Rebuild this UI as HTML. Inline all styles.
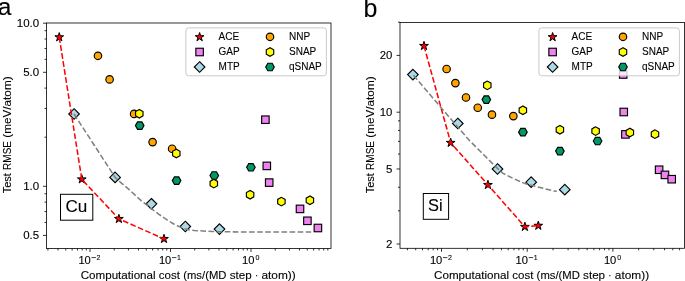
<!DOCTYPE html>
<html><head><meta charset="utf-8"><style>
html,body{margin:0;padding:0;background:#fff;width:685px;height:281px;overflow:hidden}
svg{display:block;will-change:transform}
text{stroke:#000;stroke-width:0.1px}
</style></head><body>
<svg width="685" height="281" viewBox="0 0 685 281" font-family='"Liberation Sans", sans-serif' fill="#000"><rect width="685" height="281" fill="#fff"/><defs><clipPath id="ca"><rect x="46.5" y="23.0" width="284.5" height="225.5"/></clipPath><clipPath id="cb"><rect x="400.0" y="22.5" width="284.5" height="225.8"/></clipPath></defs><g clip-path="url(#ca)"><rect x="261.65" y="115.95" width="7.50" height="7.50" fill="#ee82ee" stroke="#000" stroke-width="1.15"/><rect x="263.05" y="162.15" width="7.50" height="7.50" fill="#ee82ee" stroke="#000" stroke-width="1.15"/><rect x="265.45" y="178.85" width="7.50" height="7.50" fill="#ee82ee" stroke="#000" stroke-width="1.15"/><rect x="296.25" y="205.15" width="7.50" height="7.50" fill="#ee82ee" stroke="#000" stroke-width="1.15"/><rect x="303.65" y="217.05" width="7.50" height="7.50" fill="#ee82ee" stroke="#000" stroke-width="1.15"/><rect x="314.15" y="224.25" width="7.50" height="7.50" fill="#ee82ee" stroke="#000" stroke-width="1.15"/><polygon points="74.05,108.70 79.35,114.00 74.05,119.30 68.75,114.00" fill="#add8e6" stroke="#000" stroke-width="1.15"/><polygon points="115.10,172.10 120.40,177.40 115.10,182.70 109.80,177.40" fill="#add8e6" stroke="#000" stroke-width="1.15"/><polygon points="151.40,198.50 156.70,203.80 151.40,209.10 146.10,203.80" fill="#add8e6" stroke="#000" stroke-width="1.15"/><polygon points="185.30,221.20 190.60,226.50 185.30,231.80 180.00,226.50" fill="#add8e6" stroke="#000" stroke-width="1.15"/><polygon points="219.50,223.80 224.80,229.10 219.50,234.40 214.20,229.10" fill="#add8e6" stroke="#000" stroke-width="1.15"/><circle cx="97.95" cy="55.80" r="3.75" fill="#ffa500" stroke="#000" stroke-width="1.15"/><circle cx="109.60" cy="79.40" r="3.75" fill="#ffa500" stroke="#000" stroke-width="1.15"/><circle cx="134.10" cy="113.90" r="3.75" fill="#ffa500" stroke="#000" stroke-width="1.15"/><circle cx="152.60" cy="142.10" r="3.75" fill="#ffa500" stroke="#000" stroke-width="1.15"/><circle cx="172.10" cy="148.70" r="3.75" fill="#ffa500" stroke="#000" stroke-width="1.15"/><polygon points="139.30,109.40 135.58,111.55 135.58,115.85 139.30,118.00 143.02,115.85 143.02,111.55" fill="#ffff00" stroke="#000" stroke-width="1.15"/><polygon points="176.30,149.20 172.58,151.35 172.58,155.65 176.30,157.80 180.02,155.65 180.02,151.35" fill="#ffff00" stroke="#000" stroke-width="1.15"/><polygon points="213.80,179.30 210.08,181.45 210.08,185.75 213.80,187.90 217.52,185.75 217.52,181.45" fill="#ffff00" stroke="#000" stroke-width="1.15"/><polygon points="250.10,190.40 246.38,192.55 246.38,196.85 250.10,199.00 253.82,196.85 253.82,192.55" fill="#ffff00" stroke="#000" stroke-width="1.15"/><polygon points="281.40,197.30 277.68,199.45 277.68,203.75 281.40,205.90 285.12,203.75 285.12,199.45" fill="#ffff00" stroke="#000" stroke-width="1.15"/><polygon points="309.90,196.00 306.18,198.15 306.18,202.45 309.90,204.60 313.62,202.45 313.62,198.15" fill="#ffff00" stroke="#000" stroke-width="1.15"/><polygon points="144.00,125.60 141.85,121.88 137.55,121.88 135.40,125.60 137.55,129.32 141.85,129.32" fill="#009966" stroke="#000" stroke-width="1.15"/><polygon points="180.90,180.60 178.75,176.88 174.45,176.88 172.30,180.60 174.45,184.32 178.75,184.32" fill="#009966" stroke="#000" stroke-width="1.15"/><polygon points="218.60,175.50 216.45,171.78 212.15,171.78 210.00,175.50 212.15,179.22 216.45,179.22" fill="#009966" stroke="#000" stroke-width="1.15"/><polygon points="255.20,167.30 253.05,163.58 248.75,163.58 246.60,167.30 248.75,171.02 253.05,171.02" fill="#009966" stroke="#000" stroke-width="1.15"/><polygon points="59.25,32.60 58.22,35.78 54.88,35.78 57.58,37.74 56.55,40.92 59.25,38.96 61.95,40.92 60.92,37.74 63.62,35.78 60.28,35.78" fill="#ff0000" stroke="#000" stroke-width="1.0" stroke-linejoin="miter" stroke-miterlimit="10"/><polygon points="81.80,174.70 80.77,177.88 77.43,177.88 80.13,179.84 79.10,183.02 81.80,181.06 84.50,183.02 83.47,179.84 86.17,177.88 82.83,177.88" fill="#ff0000" stroke="#000" stroke-width="1.0" stroke-linejoin="miter" stroke-miterlimit="10"/><polygon points="118.90,214.30 117.87,217.48 114.53,217.48 117.23,219.44 116.20,222.62 118.90,220.66 121.60,222.62 120.57,219.44 123.27,217.48 119.93,217.48" fill="#ff0000" stroke="#000" stroke-width="1.0" stroke-linejoin="miter" stroke-miterlimit="10"/><polygon points="164.00,234.30 162.97,237.48 159.63,237.48 162.33,239.44 161.30,242.62 164.00,240.66 166.70,242.62 165.67,239.44 168.37,237.48 165.03,237.48" fill="#ff0000" stroke="#000" stroke-width="1.0" stroke-linejoin="miter" stroke-miterlimit="10"/><path d="M59.25,37.20 L81.80,179.30 L118.90,218.90 L164.00,238.90" fill="none" stroke="#ff0000" stroke-width="1.530" stroke-dasharray="5.661 2.448" stroke-dashoffset="0.0" stroke-linecap="butt" stroke-linejoin="round"/><path d="M74.05,114.00 L115.10,177.40 L120.00,181.80 L128.90,189.35 L141.40,200.90 L145.40,203.90 L151.60,208.90 L158.70,214.20 L166.70,219.60 L173.80,224.00 L180.30,227.10 L185.70,229.10 L189.60,229.90 L194.30,230.50 L203.00,231.00 L212.30,231.50 L219.00,231.70 L250.00,232.10 L290.00,231.90 L311.20,232.10" fill="none" stroke="#808080" stroke-width="1.530" stroke-dasharray="5.661 2.448" stroke-dashoffset="0.0" stroke-linecap="butt" stroke-linejoin="round"/></g><g clip-path="url(#cb)"><rect x="619.45" y="70.75" width="7.50" height="7.50" fill="#ee82ee" stroke="#000" stroke-width="1.15"/><rect x="620.00" y="108.25" width="7.50" height="7.50" fill="#ee82ee" stroke="#000" stroke-width="1.15"/><rect x="621.65" y="130.65" width="7.50" height="7.50" fill="#ee82ee" stroke="#000" stroke-width="1.15"/><rect x="655.35" y="166.00" width="7.50" height="7.50" fill="#ee82ee" stroke="#000" stroke-width="1.15"/><rect x="661.20" y="171.15" width="7.50" height="7.50" fill="#ee82ee" stroke="#000" stroke-width="1.15"/><rect x="667.95" y="175.45" width="7.50" height="7.50" fill="#ee82ee" stroke="#000" stroke-width="1.15"/><polygon points="412.90,69.30 418.20,74.60 412.90,79.90 407.60,74.60" fill="#add8e6" stroke="#000" stroke-width="1.15"/><polygon points="457.80,118.20 463.10,123.50 457.80,128.80 452.50,123.50" fill="#add8e6" stroke="#000" stroke-width="1.15"/><polygon points="497.50,163.70 502.80,169.00 497.50,174.30 492.20,169.00" fill="#add8e6" stroke="#000" stroke-width="1.15"/><polygon points="531.20,176.90 536.50,182.20 531.20,187.50 525.90,182.20" fill="#add8e6" stroke="#000" stroke-width="1.15"/><polygon points="564.80,184.40 570.10,189.70 564.80,195.00 559.50,189.70" fill="#add8e6" stroke="#000" stroke-width="1.15"/><circle cx="446.60" cy="69.00" r="3.75" fill="#ffa500" stroke="#000" stroke-width="1.15"/><circle cx="455.40" cy="83.10" r="3.75" fill="#ffa500" stroke="#000" stroke-width="1.15"/><circle cx="466.00" cy="97.50" r="3.75" fill="#ffa500" stroke="#000" stroke-width="1.15"/><circle cx="477.75" cy="107.70" r="3.75" fill="#ffa500" stroke="#000" stroke-width="1.15"/><circle cx="491.95" cy="114.65" r="3.75" fill="#ffa500" stroke="#000" stroke-width="1.15"/><circle cx="513.35" cy="116.10" r="3.75" fill="#ffa500" stroke="#000" stroke-width="1.15"/><polygon points="487.30,81.05 483.58,83.20 483.58,87.50 487.30,89.65 491.02,87.50 491.02,83.20" fill="#ffff00" stroke="#000" stroke-width="1.15"/><polygon points="522.85,106.00 519.13,108.15 519.13,112.45 522.85,114.60 526.57,112.45 526.57,108.15" fill="#ffff00" stroke="#000" stroke-width="1.15"/><polygon points="559.90,125.40 556.18,127.55 556.18,131.85 559.90,134.00 563.62,131.85 563.62,127.55" fill="#ffff00" stroke="#000" stroke-width="1.15"/><polygon points="595.60,126.80 591.88,128.95 591.88,133.25 595.60,135.40 599.32,133.25 599.32,128.95" fill="#ffff00" stroke="#000" stroke-width="1.15"/><polygon points="629.85,128.25 626.13,130.40 626.13,134.70 629.85,136.85 633.57,134.70 633.57,130.40" fill="#ffff00" stroke="#000" stroke-width="1.15"/><polygon points="655.00,129.85 651.28,132.00 651.28,136.30 655.00,138.45 658.72,136.30 658.72,132.00" fill="#ffff00" stroke="#000" stroke-width="1.15"/><polygon points="490.65,99.60 488.50,95.88 484.20,95.88 482.05,99.60 484.20,103.32 488.50,103.32" fill="#009966" stroke="#000" stroke-width="1.15"/><polygon points="527.20,132.15 525.05,128.43 520.75,128.43 518.60,132.15 520.75,135.87 525.05,135.87" fill="#009966" stroke="#000" stroke-width="1.15"/><polygon points="564.20,151.10 562.05,147.38 557.75,147.38 555.60,151.10 557.75,154.82 562.05,154.82" fill="#009966" stroke="#000" stroke-width="1.15"/><polygon points="601.90,141.05 599.75,137.33 595.45,137.33 593.30,141.05 595.45,144.77 599.75,144.77" fill="#009966" stroke="#000" stroke-width="1.15"/><polygon points="424.00,41.30 422.97,44.48 419.63,44.48 422.33,46.44 421.30,49.62 424.00,47.66 426.70,49.62 425.67,46.44 428.37,44.48 425.03,44.48" fill="#ff0000" stroke="#000" stroke-width="1.0" stroke-linejoin="miter" stroke-miterlimit="10"/><polygon points="450.70,138.20 449.67,141.38 446.33,141.38 449.03,143.34 448.00,146.52 450.70,144.56 453.40,146.52 452.37,143.34 455.07,141.38 451.73,141.38" fill="#ff0000" stroke="#000" stroke-width="1.0" stroke-linejoin="miter" stroke-miterlimit="10"/><polygon points="487.95,180.30 486.92,183.48 483.58,183.48 486.28,185.44 485.25,188.62 487.95,186.66 490.65,188.62 489.62,185.44 492.32,183.48 488.98,183.48" fill="#ff0000" stroke="#000" stroke-width="1.0" stroke-linejoin="miter" stroke-miterlimit="10"/><polygon points="524.90,222.20 523.87,225.38 520.53,225.38 523.23,227.34 522.20,230.52 524.90,228.56 527.60,230.52 526.57,227.34 529.27,225.38 525.93,225.38" fill="#ff0000" stroke="#000" stroke-width="1.0" stroke-linejoin="miter" stroke-miterlimit="10"/><polygon points="538.30,221.10 537.27,224.28 533.93,224.28 536.63,226.24 535.60,229.42 538.30,227.46 541.00,229.42 539.97,226.24 542.67,224.28 539.33,224.28" fill="#ff0000" stroke="#000" stroke-width="1.0" stroke-linejoin="miter" stroke-miterlimit="10"/><path d="M424.00,45.90 L450.70,142.80 L487.95,184.90 L524.90,226.80 L538.30,225.70" fill="none" stroke="#ff0000" stroke-width="1.530" stroke-dasharray="5.661 2.448" stroke-dashoffset="0.0" stroke-linecap="butt" stroke-linejoin="round"/><path d="M412.90,74.60 L441.30,107.90 L469.50,140.60 L480.70,151.70 L494.50,165.60 L502.70,173.10 L512.10,177.90 L521.50,182.10 L525.00,183.60 L544.10,188.50 L553.40,190.90 L556.80,191.30" fill="none" stroke="#808080" stroke-width="1.530" stroke-dasharray="5.661 2.448" stroke-dashoffset="-1.0" stroke-linecap="butt" stroke-linejoin="round"/></g><path d="M47.91,248.50v2.0 M57.97,248.50v2.0 M65.77,248.50v2.0 M72.14,248.50v2.0 M77.53,248.50v2.0 M82.20,248.50v2.0 M86.32,248.50v2.0 M90.00,248.50v3.5 M114.23,248.50v2.0 M128.41,248.50v2.0 M138.47,248.50v2.0 M146.27,248.50v2.0 M152.64,248.50v2.0 M158.03,248.50v2.0 M162.70,248.50v2.0 M166.82,248.50v2.0 M170.50,248.50v3.5 M194.73,248.50v2.0 M208.91,248.50v2.0 M218.97,248.50v2.0 M226.77,248.50v2.0 M233.14,248.50v2.0 M238.53,248.50v2.0 M243.20,248.50v2.0 M247.32,248.50v2.0 M251.00,248.50v3.5 M275.23,248.50v2.0 M289.41,248.50v2.0 M299.47,248.50v2.0 M307.27,248.50v2.0 M313.64,248.50v2.0 M319.03,248.50v2.0 M323.70,248.50v2.0 M327.82,248.50v2.0 M46.50,235.40h-3.5 M46.50,222.48h-2.0 M46.50,211.56h-2.0 M46.50,202.11h-2.0 M46.50,193.76h-2.0 M46.50,186.30h-3.5 M46.50,137.20h-2.0 M46.50,108.48h-2.0 M46.50,88.10h-2.0 M46.50,72.30h-3.5 M46.50,59.38h-2.0 M46.50,48.46h-2.0 M46.50,39.01h-2.0 M46.50,30.66h-2.0 M46.50,23.20h-3.5" stroke="#000" stroke-width="0.8" fill="none"/><path d="M407.40,248.30v2.0 M415.70,248.30v2.0 M422.49,248.30v2.0 M428.22,248.30v2.0 M433.19,248.30v2.0 M437.58,248.30v2.0 M441.50,248.30v3.5 M467.30,248.30v2.0 M482.39,248.30v2.0 M493.10,248.30v2.0 M501.40,248.30v2.0 M508.19,248.30v2.0 M513.92,248.30v2.0 M518.89,248.30v2.0 M523.28,248.30v2.0 M527.20,248.30v3.5 M553.00,248.30v2.0 M568.09,248.30v2.0 M578.80,248.30v2.0 M587.10,248.30v2.0 M593.89,248.30v2.0 M599.62,248.30v2.0 M604.59,248.30v2.0 M608.98,248.30v2.0 M612.90,248.30v3.5 M638.70,248.30v2.0 M653.79,248.30v2.0 M664.50,248.30v2.0 M672.80,248.30v2.0 M679.59,248.30v2.0 M400.00,244.03h-3.5 M400.00,210.81h-2.0 M400.00,187.25h-2.0 M400.00,168.97h-3.5 M400.00,154.04h-2.0 M400.00,141.41h-2.0 M400.00,130.48h-2.0 M400.00,120.83h-2.0 M400.00,112.20h-3.5 M400.00,55.43h-3.5 M400.00,22.21h-2.0" stroke="#000" stroke-width="0.8" fill="none"/><rect x="46.50" y="23.00" width="284.50" height="225.50" fill="none" stroke="#000" stroke-width="0.8" stroke-linejoin="miter"/><rect x="400.00" y="22.50" width="284.50" height="225.80" fill="none" stroke="#000" stroke-width="0.8" stroke-linejoin="miter"/><text x="39.2" y="26.80" font-size="10" text-anchor="end" textLength="22.4" lengthAdjust="spacingAndGlyphs" >10.0</text><text x="39.2" y="75.90" font-size="10" text-anchor="end" textLength="16.0" lengthAdjust="spacingAndGlyphs" >5.0</text><text x="39.2" y="189.90" font-size="10" text-anchor="end" textLength="16.0" lengthAdjust="spacingAndGlyphs" >1.0</text><text x="39.2" y="239.00" font-size="10" text-anchor="end" textLength="16.0" lengthAdjust="spacingAndGlyphs" >0.5</text><text x="392.4" y="59.43" font-size="10" text-anchor="end" textLength="12.6" lengthAdjust="spacingAndGlyphs" >20</text><text x="392.4" y="116.20" font-size="10" text-anchor="end" textLength="12.6" lengthAdjust="spacingAndGlyphs" >10</text><text x="392.4" y="172.97" font-size="10" text-anchor="end" textLength="6.4" lengthAdjust="spacingAndGlyphs" >5</text><text x="392.4" y="248.03" font-size="10" text-anchor="end" textLength="6.4" lengthAdjust="spacingAndGlyphs" >2</text><text x="78.40" y="263.9" font-size="10" textLength="12.4" lengthAdjust="spacingAndGlyphs">10</text><rect x="91.50" y="257.3" width="4.4" height="0.75" fill="#000"/><text x="96.60" y="259.7" font-size="7">2</text><text x="429.90" y="263.9" font-size="10" textLength="12.4" lengthAdjust="spacingAndGlyphs">10</text><rect x="443.00" y="257.3" width="4.4" height="0.75" fill="#000"/><text x="448.10" y="259.7" font-size="7">2</text><text x="158.90" y="263.9" font-size="10" textLength="12.4" lengthAdjust="spacingAndGlyphs">10</text><rect x="172.00" y="257.3" width="4.4" height="0.75" fill="#000"/><text x="177.10" y="259.7" font-size="7">1</text><text x="515.60" y="263.9" font-size="10" textLength="12.4" lengthAdjust="spacingAndGlyphs">10</text><rect x="528.70" y="257.3" width="4.4" height="0.75" fill="#000"/><text x="533.80" y="259.7" font-size="7">1</text><text x="242.00" y="263.9" font-size="10" textLength="12.4" lengthAdjust="spacingAndGlyphs">10</text><text x="255.40" y="259.7" font-size="7">0</text><text x="603.90" y="263.9" font-size="10" textLength="12.4" lengthAdjust="spacingAndGlyphs">10</text><text x="617.30" y="259.7" font-size="7">0</text><text x="80.67" y="278.50" font-size="10.5" textLength="74.96" lengthAdjust="spacingAndGlyphs">Computational</text><text x="158.87" y="278.50" font-size="10.5" textLength="21.12" lengthAdjust="spacingAndGlyphs">cost</text><text x="183.23" y="278.50" font-size="10.5" textLength="43.22" lengthAdjust="spacingAndGlyphs">(ms/(MD</text><text x="229.68" y="278.50" font-size="10.5" textLength="22.02" lengthAdjust="spacingAndGlyphs">step</text><text x="254.94" y="278.50" font-size="10.5" textLength="3.24" lengthAdjust="spacingAndGlyphs">·</text><text x="261.41" y="278.50" font-size="10.5" textLength="34.32" lengthAdjust="spacingAndGlyphs">atom))</text><text x="434.07" y="278.50" font-size="10.5" textLength="74.96" lengthAdjust="spacingAndGlyphs">Computational</text><text x="512.27" y="278.50" font-size="10.5" textLength="21.12" lengthAdjust="spacingAndGlyphs">cost</text><text x="536.63" y="278.50" font-size="10.5" textLength="43.22" lengthAdjust="spacingAndGlyphs">(ms/(MD</text><text x="583.08" y="278.50" font-size="10.5" textLength="22.02" lengthAdjust="spacingAndGlyphs">step</text><text x="608.34" y="278.50" font-size="10.5" textLength="3.24" lengthAdjust="spacingAndGlyphs">·</text><text x="614.81" y="278.50" font-size="10.5" textLength="34.32" lengthAdjust="spacingAndGlyphs">atom))</text><g transform="translate(10.7,134.9) rotate(-90)"><text x="-58.48" y="0.00" font-size="10.5" textLength="20.18" lengthAdjust="spacingAndGlyphs">Test</text><text x="-35.04" y="0.00" font-size="10.5" textLength="28.95" lengthAdjust="spacingAndGlyphs">RMSE</text><text x="-2.83" y="0.00" font-size="10.5" textLength="61.31" lengthAdjust="spacingAndGlyphs">(meV/atom)</text></g><g transform="translate(374.0,134.9) rotate(-90)"><text x="-58.48" y="0.00" font-size="10.5" textLength="20.18" lengthAdjust="spacingAndGlyphs">Test</text><text x="-35.04" y="0.00" font-size="10.5" textLength="28.95" lengthAdjust="spacingAndGlyphs">RMSE</text><text x="-2.83" y="0.00" font-size="10.5" textLength="61.31" lengthAdjust="spacingAndGlyphs">(meV/atom)</text></g><text x="-2.2" y="14.8" font-size="24.5" text-anchor="start" >a</text><text x="363.5" y="16.7" font-size="25" text-anchor="start" >b</text><rect x="60.5" y="194.3" width="32.3" height="25.9" fill="#fff" stroke="#000" stroke-width="1"/><text x="65.4" y="211.5" font-size="17" text-anchor="start" textLength="21.8" lengthAdjust="spacingAndGlyphs" >Cu</text><rect x="423.3" y="193.5" width="25.3" height="25.8" fill="#fff" stroke="#000" stroke-width="1"/><text x="428.0" y="210.7" font-size="17" text-anchor="start" textLength="14.6" lengthAdjust="spacingAndGlyphs" >Si</text><rect x="185.90" y="27.9" width="140.5" height="47.9" rx="2.8" ry="2.8" fill="#fff" fill-opacity="0.8" stroke="#c4c4c4" stroke-opacity="0.9" stroke-width="1"/><polygon points="199.60,32.50 198.57,35.68 195.23,35.68 197.93,37.64 196.90,40.82 199.60,38.86 202.30,40.82 201.27,37.64 203.97,35.68 200.63,35.68" fill="#ff0000" stroke="#000" stroke-width="1.0" stroke-linejoin="miter" stroke-miterlimit="10"/><rect x="195.85" y="48.25" width="7.50" height="7.50" fill="#ee82ee" stroke="#000" stroke-width="1.15"/><polygon points="199.60,61.70 204.90,67.00 199.60,72.30 194.30,67.00" fill="#add8e6" stroke="#000" stroke-width="1.15"/><circle cx="270.00" cy="36.80" r="3.75" fill="#ffa500" stroke="#000" stroke-width="1.15"/><polygon points="270.00,47.70 266.28,49.85 266.28,54.15 270.00,56.30 273.72,54.15 273.72,49.85" fill="#ffff00" stroke="#000" stroke-width="1.15"/><polygon points="274.30,67.00 272.15,63.28 267.85,63.28 265.70,67.00 267.85,70.72 272.15,70.72" fill="#009966" stroke="#000" stroke-width="1.15"/><text x="218.60" y="40.10" font-size="10" text-anchor="start" >ACE</text><text x="289.00" y="40.10" font-size="10" text-anchor="start" >NNP</text><text x="218.60" y="55.30" font-size="10" text-anchor="start" >GAP</text><text x="289.00" y="55.30" font-size="10" text-anchor="start" >SNAP</text><text x="218.60" y="70.30" font-size="10" text-anchor="start" >MTP</text><text x="289.00" y="70.30" font-size="10" text-anchor="start" >qSNAP</text><rect x="538.90" y="27.9" width="140.5" height="47.9" rx="2.8" ry="2.8" fill="#fff" fill-opacity="0.8" stroke="#c4c4c4" stroke-opacity="0.9" stroke-width="1"/><polygon points="552.60,32.50 551.57,35.68 548.23,35.68 550.93,37.64 549.90,40.82 552.60,38.86 555.30,40.82 554.27,37.64 556.97,35.68 553.63,35.68" fill="#ff0000" stroke="#000" stroke-width="1.0" stroke-linejoin="miter" stroke-miterlimit="10"/><rect x="548.85" y="48.25" width="7.50" height="7.50" fill="#ee82ee" stroke="#000" stroke-width="1.15"/><polygon points="552.60,61.70 557.90,67.00 552.60,72.30 547.30,67.00" fill="#add8e6" stroke="#000" stroke-width="1.15"/><circle cx="623.00" cy="36.80" r="3.75" fill="#ffa500" stroke="#000" stroke-width="1.15"/><polygon points="623.00,47.70 619.28,49.85 619.28,54.15 623.00,56.30 626.72,54.15 626.72,49.85" fill="#ffff00" stroke="#000" stroke-width="1.15"/><polygon points="627.30,67.00 625.15,63.28 620.85,63.28 618.70,67.00 620.85,70.72 625.15,70.72" fill="#009966" stroke="#000" stroke-width="1.15"/><text x="571.60" y="40.10" font-size="10" text-anchor="start" >ACE</text><text x="642.00" y="40.10" font-size="10" text-anchor="start" >NNP</text><text x="571.60" y="55.30" font-size="10" text-anchor="start" >GAP</text><text x="642.00" y="55.30" font-size="10" text-anchor="start" >SNAP</text><text x="571.60" y="70.30" font-size="10" text-anchor="start" >MTP</text><text x="642.00" y="70.30" font-size="10" text-anchor="start" >qSNAP</text></svg>
</body></html>
